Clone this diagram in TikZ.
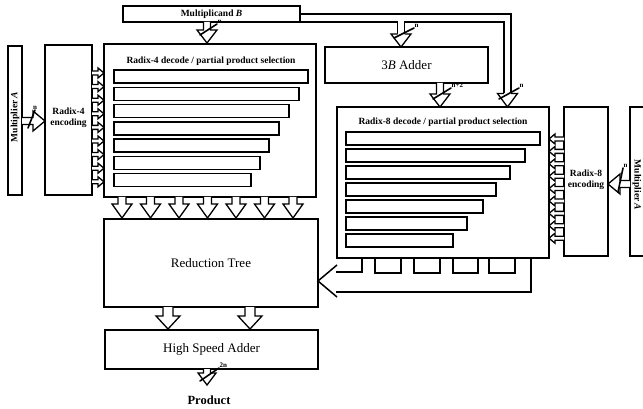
\documentclass[tikz,border=0pt]{standalone}
\usepackage{fontspec}
\setmainfont{Liberation Serif}
\usetikzlibrary{calc}
\begin{document}
\begin{tikzpicture}[x=1pt,y=-1pt,
  box/.style={draw, line width=1.6pt, inner sep=0pt, outer sep=0pt},
  bar/.style={draw, line width=1.4pt},
  bus/.style={line width=1.3pt, line join=miter},
  small/.style={font=\fontsize{9.5}{10.5}\selectfont\bfseries, inner sep=0pt, align=center},
  big/.style={font=\fontsize{13}{15}\selectfont, inner sep=0pt},
  lbl/.style={font=\fontsize{7}{7}\selectfont\bfseries, inner sep=0.5pt},
  slashln/.style={draw=black, line width=1.6pt, line cap=round},
  pics/fat/.style args={#1/#2/#3/#4}{code={
     \draw[bus, fill=white] (-#2,-#1) -- (-#2,-#4) -- (-#3,-#4) -- (0,0) -- (#3,-#4) -- (#2,-#4) -- (#2,-#1);}},
]
\useasboundingbox (0,0) rectangle (643,409);

% ---- boxes
\node[box, small, minimum width=177pt, minimum height=16pt] (mulB) at (211.5,14) {Multiplicand \textit{B}};
\node[box, minimum width=14pt, minimum height=149pt] (mulA) at (15,120.5) {};
\node[small, rotate=90] (mulAt) at (15,117) {Multiplier \textit{A}};
\node[box, minimum width=47pt, minimum height=150pt] (enc4) at (68.5,120) {};
\node[small] (enc4t) at (68.5,118) {Radix-4\\encoding};
\node[box, minimum width=212pt, minimum height=153pt] (dec4) at (210,120.5) {};
\node[small] (dec4t) at (211,61) {Radix-4 decode / partial product selection};
\node[box, big, minimum width=214pt, minimum height=88pt] (red) at (211,263) {Reduction Tree};
\node[box, big, minimum width=213pt, minimum height=39pt] (hsa) at (211.5,349.5) {High Speed Adder};
\node[box, big, minimum width=163pt, minimum height=36pt] (add3) at (406.5,65) {3\textit{B} Adder};
\node[box, minimum width=212pt, minimum height=151pt] (dec8) at (443,182.5) {};
\node[small] (dec8t) at (443,122) {Radix-8 decode / partial product selection};
\node[box, minimum width=44pt, minimum height=149pt] (enc8) at (586,181.5) {};
\node[small] (enc8t) at (586,180) {Radix-8\\encoding};
\node[box, minimum width=14pt, minimum height=149pt] (mulA2) at (637,181.5) {};
\node[small, rotate=-90] (mulA2t) at (637,185) {Multiplier \textit{A}};
\node[font=\fontsize{12.5}{14}\selectfont\bfseries, inner sep=0pt] (prod) at (209,400) {Product};

% ---- partial product bars
\foreach \r [count=\i from 0] in {308,299,289,279,269,260,251}
  \draw[bar] (114,{70+17.3*\i}) rectangle (\r,{83+17.3*\i});
\foreach \r [count=\i from 0] in {540,525,510,496,483,467,453}
  \draw[bar] (346,{132+17*\i}) rectangle (\r,{145+17*\i});

% ---- multiplicand bus
\draw[bus] (mulB.east |- 0,14) -- (511,14) -- (511,93.5);
\draw[bus] (mulB.south east) -- (397.5,22) -- (397.5,34);
\draw[bus] (404.5,34) -- (404.5,22) -- (504,22) -- (504,93.5);

% ---- fat bus arrows
\pic at (207,43) {fat=21/3.5/10/13};
\pic at (401,47) {fat=13/3.5/10/13};
\pic at (440,107) {fat=24/3.5/10/13};
\pic at (507.5,107) {fat=13.5/3.5/10/13.5};

% decode4 -> reduction tree
\foreach \x in {122,150.5,179,207.5,236,264.5,293}
  \pic at (\x,218) {fat=21/4/10/14};
% reduction -> adder
\foreach \x in {168,250}
  \pic at (\x,329) {fat=22/5/12/13};
% adder -> product
\pic at (207,385) {fat=16/3.5/9/12};

% multiplier A -> encoders
\pic[rotate=90] at (45,121) {fat=23/3.5/10/12};
\pic[rotate=-90] at (608,184) {fat=22/3.5/10/12};

% encoders -> decoders (small arrows)
\foreach \i in {0,...,8}
  \pic[rotate=90] at (104,{73+13.6*\i}) {fat=12/2/5/6};
\foreach \i in {0,...,8}
  \pic[rotate=-90] at (549,{139+12.4*\i}) {fat=15/2/5/6};

% ---- bus-width slashes and labels
\coordinate (s1) at (217,24);
\draw[slashln] (200,35) -- (s1);
\node[lbl, anchor=south west] at (s1) {n};
\coordinate (s2) at (414,28);
\draw[slashln] (394,38) -- (s2);
\node[lbl, anchor=south west] at (s2) {n};
\coordinate (s3) at (451,88);
\draw[slashln] (433,99) -- (s3);
\node[lbl, anchor=south west] at (s3) {n+2};
\coordinate (s4) at (519,88);
\draw[slashln] (499,99) -- (s4);
\node[lbl, anchor=south west] at (s4) {n};
\coordinate (s5) at (219,368);
\draw[slashln] (200,381) -- (s5);
\node[lbl, anchor=south west] at (s5) {2n};
\coordinate (s6) at (35,110);
\draw[slashln] (28,128) -- (s6);
\node[lbl, anchor=south] at (s6) {n};
\coordinate (s7) at (623,168);
\draw[slashln] (618,192) -- (s7);
\node[lbl, anchor=south west] at (s7) {n};

% ---- radix-8 outputs fed back into reduction tree
\draw[bus, line width=1.5pt] (531,258) -- (531,292) -- (336,292);
\draw[bus, line width=1.5pt] (362,258) -- (362,272) -- (336,272);
\draw[bus, line width=1.5pt] (337,265) -- (red.east |- 0,281) -- (337,297);
\foreach \a/\b in {375/401,414/440,453/478,489/515}
  \draw[bus, line width=1.5pt] (\a,258) -- (\a,273) -- (\b,273) -- (\b,258);
\end{tikzpicture}
\end{document}
